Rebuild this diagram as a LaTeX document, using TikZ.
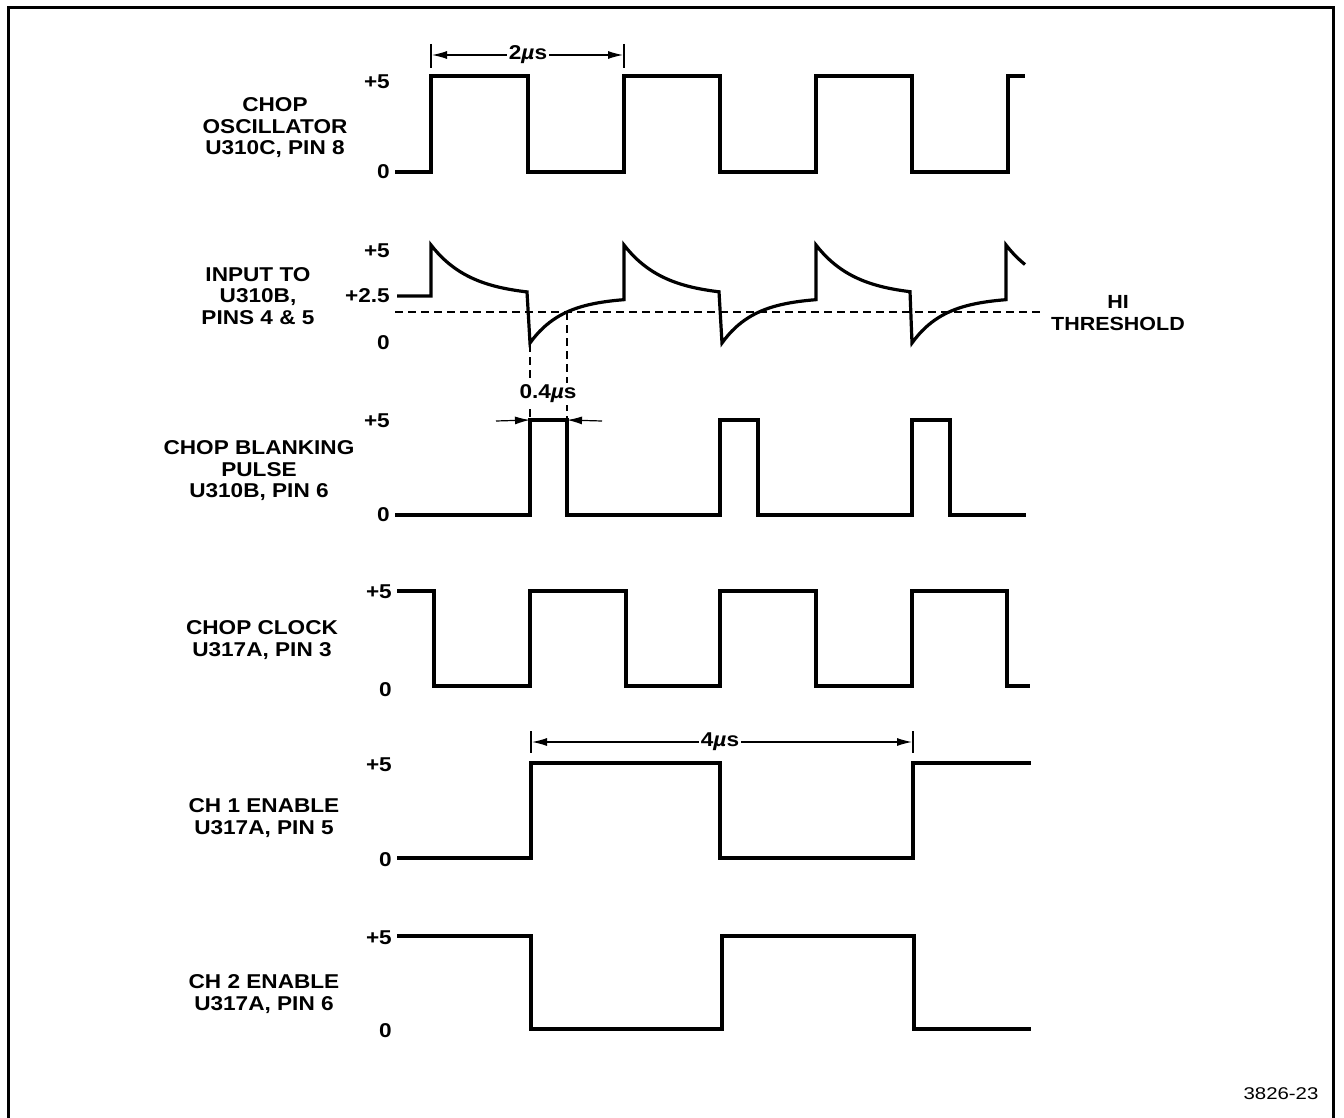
\documentclass[tikz,border=0pt]{standalone}
\usepackage{fontspec}
\setmainfont{Liberation Sans}
\newfontfamily\lblfont[FakeStretch=1.13]{Liberation Sans}
\newfontfamily\numfont[FakeStretch=1.2]{Liberation Sans}
\usetikzlibrary{arrows.meta}
\begin{document}
\begin{tikzpicture}[x=1pt,y=-1pt,
  wave/.style={line width=3.2pt,line join=miter},
  lbl/.style={font=\lblfont\fontsize{20}{21.5}\selectfont\bfseries,align=center,inner sep=0pt},
  lvl/.style={font=\lblfont\fontsize{20}{21}\selectfont\bfseries,inner sep=0pt,anchor=east},
  dim/.style={line width=1.2pt,-{Latex[length=15pt,width=8pt]}},
  tick/.style={line width=2.4pt},
  vdash/.style={line width=1.4pt,dash pattern=on 8pt off 5pt},
  frame/.style={line width=3pt}]
\useasboundingbox (0,0) rectangle (1344,1118);
% frame
\coordinate (f1) at (8,1118); \coordinate (f2) at (8,8);
\coordinate (f3) at (1333,8); \coordinate (f4) at (1333,1118);
\draw[frame] (f1) -- (f2) -- (f3) -- (f4);

% ---------- labels ----------
\node[lbl] (lab1) at (275,128) {CHOP\\OSCILLATOR\\U310C, PIN 8};
\node[lbl] (lab2) at (258,296) {INPUT TO\\U310B,\\PINS 4 \& 5};
\node[lbl] (lab3) at (259,471) {CHOP BLANKING\\PULSE\\U310B, PIN 6};
\node[lbl] (lab4) at (262,640) {CHOP CLOCK\\U317A, PIN 3};
\node[lbl] (lab5) at (264,818) {CH 1 ENABLE\\U317A, PIN 5};
\node[lbl] (lab6) at (264,994) {CH 2 ENABLE\\U317A, PIN 6};

% ---------- level labels ----------
\node[lvl] (v1a) at (390,82) {+5};
\node[lvl] (v1b) at (390,172) {0};
\node[lvl] (v2a) at (390,251) {+5};
\node[lvl] (v2b) at (390,296) {+2.5};
\node[lvl] (v2c) at (390,343) {0};
\node[lvl] (v3a) at (390,421) {+5};
\node[lvl] (v3b) at (390,515) {0};
\node[lvl] (v4a) at (392,592) {+5};
\node[lvl] (v4b) at (392,690) {0};
\node[lvl] (v5a) at (392,765) {+5};
\node[lvl] (v5b) at (392,860) {0};
\node[lvl] (v6a) at (392,938) {+5};
\node[lvl] (v6b) at (392,1031) {0};

% ---------- wave 1: chop oscillator ----------
\draw[wave] (395,172) -- (431,172) -- (431,76) -- (528,76) -- (528,172) -- (624,172) -- (624,76)
  -- (720,76) -- (720,172) -- (816,172) -- (816,76) -- (912,76) -- (912,172) -- (1008,172)
  -- (1008,76) -- (1025,76);
% 2 us dimension
\coordinate (a1t) at (431,44); \coordinate (a1b) at (431,68);
\coordinate (a2t) at (624,44); \coordinate (a2b) at (624,68);
\draw[tick] (a1t) -- (a1b);
\draw[tick] (a2t) -- (a2b);
\coordinate (a1) at (432,55); \coordinate (a2) at (623,55);
\node[lvl,anchor=center,inner sep=2pt] (d2) at (528,55) {2\textit{µ}s};
\draw[dim] (d2.west) -- (a1);
\draw[dim] (d2.east) -- (a2);

% ---------- wave 2: input ----------
\draw[wave] (397,296) -- (431,296) -- (431,245)
 -- plot[domain=431:527,samples=30] (\x,{296.6-51.6*exp(-(\x-431)/40)})
 -- (530,343)
 -- plot[domain=530:624,samples=30] (\x,{297+46*exp(-(\x-530)/33)})
 -- (624,245)
 -- plot[domain=624:719,samples=30] (\x,{296.6-51.6*exp(-(\x-624)/40)})
 -- (722,343)
 -- plot[domain=722:816,samples=30] (\x,{297+46*exp(-(\x-722)/33)})
 -- (816,245)
 -- plot[domain=816:910,samples=30] (\x,{296.6-51.6*exp(-(\x-816)/40)})
 -- (912,343)
 -- plot[domain=912:1006,samples=30] (\x,{297+46*exp(-(\x-912)/33)})
 -- (1006,245)
 -- plot[domain=1006:1025,samples=10] (\x,{296.6-51.6*exp(-(\x-1006)/40)});
% threshold
\node[lbl,font=\lblfont\fontsize{19}{21.5}\selectfont\bfseries] (hi) at (1118,313) {HI\\THRESHOLD};
\coordinate (th0) at (395,312); \coordinate (th1) at (1043,312);
\draw[vdash] (th0) -- (th1);
% 0.4 us
\coordinate (p1t) at (530,344); \coordinate (p1b) at (530,420);
\coordinate (p2t) at (567,312); \coordinate (p2b) at (567,420);
\draw[vdash] (p1t) -- (p1b);
\draw[vdash] (p2t) -- (p2b);
\node[lvl,anchor=center,fill=white,inner sep=2pt] (d04) at (548,394) {0.4\textit{µ}s};
\coordinate (q1) at (496,421); \coordinate (q2) at (602,421);
\draw[dim] (q1) -- (p1b);
\draw[dim] (q2) -- (p2b);

% ---------- wave 3: blanking ----------
\draw[wave] (395,515) -- (530,515) -- (530,420) -- (567,420) -- (567,515) -- (720,515) -- (720,420)
  -- (758,420) -- (758,515) -- (912,515) -- (912,420) -- (950,420) -- (950,515) -- (1026,515);

% ---------- wave 4: chop clock ----------
\draw[wave] (397,591) -- (434,591) -- (434,686) -- (530,686) -- (530,591) -- (626,591) -- (626,686)
  -- (720,686) -- (720,591) -- (816,591) -- (816,686) -- (912,686) -- (912,591) -- (1007,591)
  -- (1007,686) -- (1030,686);

% ---------- wave 5: CH1 enable ----------
\draw[wave] (397,858) -- (531,858) -- (531,763) -- (720,763) -- (720,858) -- (913,858) -- (913,763) -- (1031,763);
\coordinate (b1t) at (531,731); \coordinate (b1b) at (531,753);
\coordinate (b2t) at (913,731); \coordinate (b2b) at (913,753);
\draw[tick] (b1t) -- (b1b);
\draw[tick] (b2t) -- (b2b);
\coordinate (b1) at (532,742); \coordinate (b2) at (912,742);
\node[lvl,anchor=center,inner sep=2pt] (d4) at (720,742) {4\textit{µ}s};
\draw[dim] (d4.west) -- (b1);
\draw[dim] (d4.east) -- (b2);

% ---------- wave 6: CH2 enable ----------
\draw[wave] (397,936) -- (531,936) -- (531,1029) -- (722,1029) -- (722,936) -- (914,936) -- (914,1029) -- (1031,1029);

% figure number
\node[font=\numfont\fontsize{17}{19}\selectfont,inner sep=0pt] (fig) at (1281,1094) {3826-23};
\end{tikzpicture}
\end{document}
